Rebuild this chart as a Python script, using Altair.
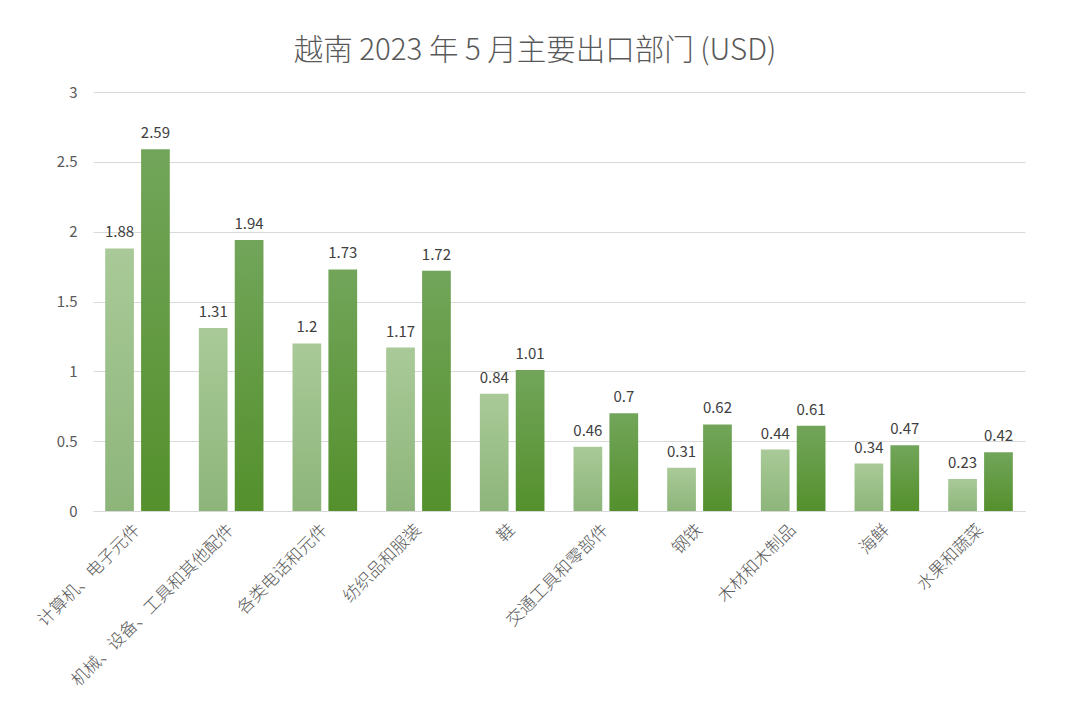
import altair as alt
import pandas as pd

categories = ["计算机、电子元件", "机械、设备、工具和其他配件", "各类电话和元件", "纺织品和服装",
              "鞋", "交通工具和零部件", "钢铁", "木材和木制品", "海鲜", "水果和蔬菜"]
series_names = ["2022年5月", "2023年5月"]
values_a = [1.88, 1.31, 1.2, 1.17, 0.84, 0.46, 0.31, 0.44, 0.34, 0.23]
values_b = [2.59, 1.94, 1.73, 1.72, 1.01, 0.7, 0.62, 0.61, 0.47, 0.42]

rows = []
for c, a, b in zip(categories, values_a, values_b):
    rows.append({"cat": c, "series": series_names[0], "value": a})
    rows.append({"cat": c, "series": series_names[1], "value": b})
df = pd.DataFrame(rows)

FONT = "Noto Sans CJK SC"

def grad(top, bottom):
    return alt.Gradient(
        gradient="linear",
        stops=[alt.GradientStop(color=top, offset=0), alt.GradientStop(color=bottom, offset=1)],
        x1=0, x2=0, y1=0, y2=1,
    )

x_enc = alt.X("cat:N", sort=categories, title=None,
              scale=alt.Scale(paddingInner=0.31, paddingOuter=0.13),
              axis=alt.Axis(labelAngle=-45, labelAlign="right", labelBaseline="middle",
                            labelFontSize=17, labelFontWeight=300, labelColor="#595959", labelFont=FONT,
                            labelPadding=16, ticks=False, domainColor="#d9d9d9",
                            labelLimit=400))
xo_enc = alt.XOffset("series:N", scale=alt.Scale(domain=series_names, paddingInner=0.2))
y_enc = alt.Y("value:Q", title=None,
              scale=alt.Scale(domain=[0, 3]),
              axis=alt.Axis(values=[0, 0.5, 1, 1.5, 2, 2.5, 3], labelFontSize=15,
                            labelColor="#595959", labelFont=FONT, labelPadding=16,
                            ticks=False, domain=False, gridColor="#d9d9d9",
                            labelExpr="datum.value"))

base = alt.Chart(df).encode(x=x_enc, xOffset=xo_enc, y=y_enc)

bar_a = base.transform_filter(alt.datum.series == series_names[0]).mark_bar(
    color=grad("#a9ca98", "#8db57a"))
bar_b = base.transform_filter(alt.datum.series == series_names[1]).mark_bar(
    color=grad("#72a55a", "#54902c"))
text = base.mark_text(baseline="bottom", dy=-8, fontSize=15, color="#404040", font=FONT).encode(
    text=alt.Text("value:Q"))

chart = alt.layer(bar_a, bar_b, text).properties(
    width=932, height=419,
    autosize="none",
    padding={"left": 85, "top": 84, "right": 50, "bottom": 190},
    title=alt.TitleParams("越南 2023 年 5 月主要出口部门 (USD)", fontSize=29.5, color="#595959",
                          font=FONT, fontWeight=300, anchor="middle", dx=-24, offset=19),
).configure(background="white").configure_view(stroke=None)

chart.save("out.html", embed_options={"renderer": "svg", "actions": False})
